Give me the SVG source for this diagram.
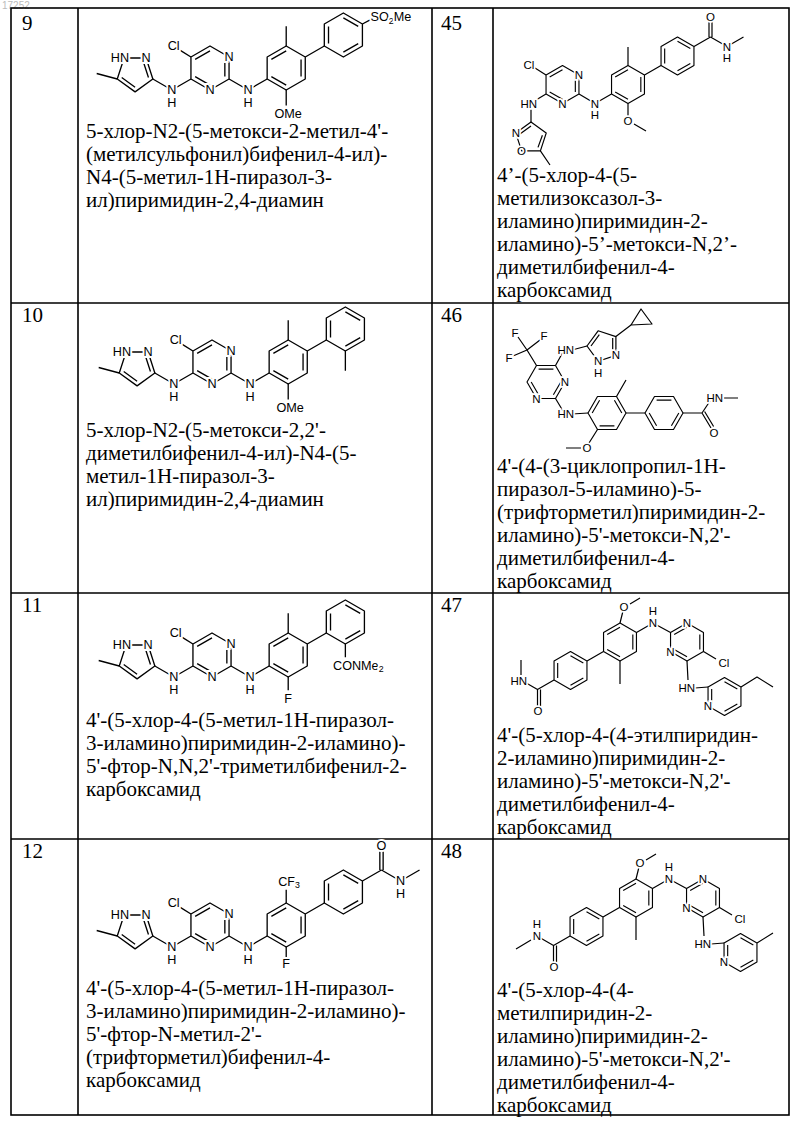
<svg xmlns="http://www.w3.org/2000/svg" xmlns:xlink="http://www.w3.org/1999/xlink" width="800" height="1124" viewBox="0 0 800 1124">
<style>
.b{stroke:#000;stroke-width:1.2;fill:none;stroke-linejoin:round}
.g{stroke:#000;stroke-width:1.6;fill:none}
.a{font-family:"Liberation Sans",Arial,sans-serif;font-size:11.5px;text-anchor:middle;dominant-baseline:central;fill:#000;stroke:#fff;stroke-width:3.5px;paint-order:stroke}
.ae{text-anchor:end}
.as{text-anchor:start}
</style>
<defs>
<g id="hexA"><polygon points="0,-20 17.32,-10 17.32,10 0,20 -17.32,10 -17.32,-10"/><path d="M13.5,-7.8 L13.5,7.8 M0,15.6 L-13.5,7.8 M-13.5,-7.8 L0,-15.6"/></g>
<g id="hexB"><polygon points="0,-20 17.32,-10 17.32,10 0,20 -17.32,10 -17.32,-10"/><path d="M0,-15.6 L13.5,-7.8 M13.5,7.8 L0,15.6 M-13.5,7.8 L-13.5,-7.8"/></g>
<g id="core">
<g class="b">
<use xlink:href="#hexA"/>
<path d="M-17.32,-10 L-27,-16 M-17.32,10 L-34.64,20 L-51.96,10 M17.32,10 L34.64,20 L51.96,10 M-84.3,10 L-103,5"/>
<polygon points="-78.1,-9.1 -58.1,-9.1 -51.96,10 -68.1,21.7 -84.3,10"/>
<path d="M-60.6,-5.65 L-55.95,8.68 M-68.1,17.45 L-80.25,8.68"/>
</g>
<text class="a" x="17.32" y="-10">N</text>
<text class="a" x="0" y="20">N</text>
<text class="a" x="-34.64" y="20">N</text>
<text class="a" x="-34.64" y="32">H</text>
<text class="a" x="34.64" y="20">N</text>
<text class="a" x="34.64" y="32">H</text>
<text class="a ae" x="-73.6" y="-9.1">HN</text>
<text class="a" x="-58.1" y="-9.1">N</text>
<text class="a" x="-33" y="-20">Cl</text>
</g>
<g id="m47">
<g class="b">
<use xlink:href="#hexA" transform="translate(620,642) scale(0.95)"/>
<use xlink:href="#hexA" transform="translate(687,642) scale(0.95)"/>
<use xlink:href="#hexB" transform="translate(570.5,670.5) scale(0.95)"/>
<use xlink:href="#hexB" transform="translate(724.5,696.5) scale(0.95)"/>
<path d="M620,623 L623,611 M630,604 L640,598 M636.5,632.5 L653,623 L670.5,632.5 M703.5,651.5 L716,659 M687,661 L688,680 M695,688 L708,687 M620,661 L620,684 M603.5,651.5 L587,661 M554,680 L537.5,689.5 M537.5,689.5 L537.5,706 M540.5,689.5 L540.5,706 M537.5,689.5 L521,680"/>
</g>
<text class="a" x="624" y="607">O</text>
<text class="a" x="653" y="623">N</text>
<text class="a" x="653" y="611">H</text>
<text class="a" x="687" y="623">N</text>
<text class="a" x="670.5" y="651.5">N</text>
<text class="a" x="724" y="663">Cl</text>
<text class="a ae" x="695" y="688">HN</text>
<text class="a" x="708" y="706">N</text>
<text class="a" x="538" y="711">O</text>
</g>
</defs>

<text x="2" y="9" font-family="Liberation Sans,Arial,sans-serif" font-size="10" fill="#bbb">17252</text>

<g id="table" class="g">
<rect x="11" y="8" width="778" height="1107"/>
<path d="M78,8 V1115 M432,8 V1115 M493,8 V1115 M11,303 H789 M11,593 H789 M11,839 H789"/>
</g>

<g id="numbers" font-family="'Liberation Serif','DejaVu Serif','Times New Roman',serif" font-size="21" fill="#000">
<text x="22" y="30">9</text><text x="441" y="30">45</text>
<text x="22" y="322">10</text><text x="441" y="322">46</text>
<text x="22" y="612">11</text><text x="441" y="612">47</text>
<text x="22" y="858">12</text><text x="441" y="858">48</text>
</g>

<g id="mol9" transform="translate(210,68) scale(1.1)">
<use xlink:href="#core"/>
<g class="b">
<use xlink:href="#hexA" transform="translate(69.28,0)"/>
<use xlink:href="#hexB" transform="translate(121.24,-30)"/>
<path d="M69.28,-20 L69.28,-38 M69.28,20 L69.28,34 M86.6,-10 L103.92,-20 M138.56,-40 L146,-44"/>
</g>
<text class="a" x="71" y="42">OMe</text>
<text class="a as" x="146" y="-46">SO<tspan font-size="8" dy="3">2</tspan><tspan dy="-3">Me</tspan></text>
</g>

<g id="mol10" transform="translate(212,362) scale(1.1)">
<use xlink:href="#core"/>
<g class="b">
<use xlink:href="#hexA" transform="translate(69.28,0)"/>
<use xlink:href="#hexB" transform="translate(121.24,-30)"/>
<path d="M69.28,-20 L69.28,-38 M69.28,20 L69.28,34 M86.6,-10 L103.92,-20 M121.24,-10 L121.24,8"/>
</g>
<text class="a" x="71" y="42">OMe</text>
</g>

<g id="mol11" transform="translate(212,655) scale(1.1)">
<use xlink:href="#core"/>
<g class="b">
<use xlink:href="#hexA" transform="translate(69.28,0)"/>
<use xlink:href="#hexB" transform="translate(121.24,-30)"/>
<path d="M69.28,-20 L69.28,-38 M69.28,20 L69.28,32 M86.6,-10 L103.92,-20 M121.24,-10 L121.24,2"/>
</g>
<text class="a" x="69.28" y="40">F</text>
<text class="a as" x="110" y="10">CONMe<tspan font-size="8" dy="3">2</tspan></text>
</g>

<g id="mol12" transform="translate(210,925) scale(1.1)">
<use xlink:href="#core"/>
<g class="b">
<use xlink:href="#hexA" transform="translate(69.28,0)"/>
<use xlink:href="#hexB" transform="translate(121.24,-30)"/>
<path d="M69.28,-20 L69.28,-32 M69.28,20 L69.28,29 M86.6,-10 L103.92,-20 M138.56,-40 L155.88,-50 M154.4,-50 L154.4,-67 M157.4,-50 L157.4,-67 M155.88,-50 L173.2,-40 M173.2,-40 L190.5,-50"/>
</g>
<text class="a" x="69.28" y="35">F</text>
<text class="a as" x="62" y="-39">CF<tspan font-size="8" dy="3">3</tspan></text>
<text class="a" x="155.88" y="-72">O</text>
<text class="a" x="173.2" y="-40">N</text>
<text class="a" x="173.2" y="-28">H</text>
</g>

<g id="mol45">
<g class="b">
<use xlink:href="#hexA" transform="translate(562.5,84.5) scale(0.95)"/>
<use xlink:href="#hexA" transform="translate(628,84.5) scale(0.95)"/>
<use xlink:href="#hexB" transform="translate(677.5,56) scale(0.95)"/>
<path d="M546,75 L535,68 M546,94 L531,103 M531,106 L531,122 M579,94 L595,103.5 L611.5,94 M540.4,150.9 L550,165 M628,65.5 L628,47 M628,103.5 L628,116 M634,124 L646,131 M644.5,75 L661,65.5 M694,46.5 L710.5,37 M709,37 L709,22 M712,37 L712,22 M710.5,37 L727,46.5 M727,46.5 L743.5,37"/>
<polygon points="531,122 546.2,133.1 540.4,150.9 521.6,150.9 515.8,133.1"/>
<path d="M531,126 L519.6,134.3 M542.4,135.3 L538,147.4"/>
</g>
<text class="a" x="529" y="65">Cl</text>
<text class="a" x="579" y="75">N</text>
<text class="a" x="562.5" y="103.5">N</text>
<text class="a ae" x="537" y="104">HN</text>
<text class="a" x="515.8" y="133.1">N</text>
<text class="a" x="521.6" y="150.9">O</text>
<text class="a" x="595" y="103.5">N</text>
<text class="a" x="595" y="115">H</text>
<text class="a" x="628" y="121">O</text>
<text class="a" x="710.5" y="17">O</text>
<text class="a" x="727" y="46.5">N</text>
<text class="a" x="727" y="58">H</text>
</g>

<g id="mol46">
<g class="b">
<use xlink:href="#hexA" transform="translate(546,382) rotate(30) scale(0.95)"/>
<use xlink:href="#hexB" transform="translate(607,413) rotate(30) scale(0.95)"/>
<use xlink:href="#hexA" transform="translate(664,413) rotate(30) scale(0.95)"/>
<path d="M536.5,365.5 L527,350 M527,350 L518,337 M527,350 L540,340 M527,350 L513,356 M555.5,365.5 L563,352 M572,350 L587,346 M615.9,336.6 L631,325 M555.5,398.5 L563,411 M572,414 L588,413 M616.5,396.5 L626,380 M597.5,429.5 L589,443 M581,448 L566,448 M626,413 L645,413 M683,413 L702,413 M702,413 L711,428 M704.6,411.5 L713.6,426.5 M702,413 L710,401 M724,398 L738,398"/>
<polygon points="587,346 598.1,330.8 615.9,336.6 615.9,355.4 598.1,361.2"/>
<path d="M591,346 L599.3,334.6 M612.7,338 L612.7,354"/>
<polygon points="631,325 641,309 652,324"/>
</g>
<text class="a" x="515" y="333">F</text>
<text class="a" x="544" y="336">F</text>
<text class="a" x="509" y="358">F</text>
<text class="a ae" x="574" y="350">HN</text>
<text class="a" x="565" y="382">N</text>
<text class="a" x="536.5" y="398.5">N</text>
<text class="a ae" x="574" y="414">HN</text>
<text class="a" x="615.9" y="355.4">N</text>
<text class="a" x="598.1" y="361.2">N</text>
<text class="a" x="598.1" y="373">H</text>
<text class="a" x="587" y="448">O</text>
<text class="a" x="714" y="433">O</text>
<text class="a ae" x="723" y="398">HN</text>
</g>

<g id="mol47">
<use xlink:href="#m47"/>
<path class="b" d="M741,687 L757,677 L773,687 M521,675 L521,660"/>
<text class="a ae" x="527" y="681">HN</text>
</g>

<g id="mol48">
<g transform="translate(16,256)">
<use xlink:href="#m47"/>
<path class="b" d="M741,687 L757,677 M515,684 L500,693"/>
<text class="a" x="521" y="680">N</text>
<text class="a" x="521" y="668">H</text>
</g>
</g>

<g id="names" font-family="'Liberation Serif','DejaVu Serif','Times New Roman',serif" font-size="21" fill="#000">
<text x="86" y="138">5-хлор-N2-(5-метокси-2-метил-4'-</text>
<text x="86" y="161">(метилсульфонил)бифенил-4-ил)-</text>
<text x="86" y="184">N4-(5-метил-1H-пиразол-3-</text>
<text x="86" y="207">ил)пиримидин-2,4-диамин</text>

<text x="497" y="182">4’-(5-хлор-4-(5-</text>
<text x="497" y="205">метилизоксазол-3-</text>
<text x="497" y="228">иламино)пиримидин-2-</text>
<text x="497" y="251">иламино)-5’-метокси-N,2’-</text>
<text x="497" y="274">диметилбифенил-4-</text>
<text x="497" y="297">карбоксамид</text>

<text x="86" y="437">5-хлор-N2-(5-метокси-2,2'-</text>
<text x="86" y="460">диметилбифенил-4-ил)-N4-(5-</text>
<text x="86" y="483">метил-1H-пиразол-3-</text>
<text x="86" y="506">ил)пиримидин-2,4-диамин</text>

<text x="497" y="473">4'-(4-(3-циклопропил-1H-</text>
<text x="497" y="496">пиразол-5-иламино)-5-</text>
<text x="497" y="519">(трифторметил)пиримидин-2-</text>
<text x="497" y="542">иламино)-5'-метокси-N,2'-</text>
<text x="497" y="565">диметилбифенил-4-</text>
<text x="497" y="588">карбоксамид</text>

<text x="86" y="727">4'-(5-хлор-4-(5-метил-1H-пиразол-</text>
<text x="86" y="750">3-иламино)пиримидин-2-иламино)-</text>
<text x="86" y="773">5'-фтор-N,N,2'-триметилбифенил-2-</text>
<text x="86" y="796">карбоксамид</text>

<text x="497" y="742">4'-(5-хлор-4-(4-этилпиридин-</text>
<text x="497" y="765">2-иламино)пиримидин-2-</text>
<text x="497" y="788">иламино)-5'-метокси-N,2'-</text>
<text x="497" y="811">диметилбифенил-4-</text>
<text x="497" y="834">карбоксамид</text>

<text x="86" y="995">4'-(5-хлор-4-(5-метил-1H-пиразол-</text>
<text x="86" y="1018">3-иламино)пиримидин-2-иламино)-</text>
<text x="86" y="1041">5'-фтор-N-метил-2'-</text>
<text x="86" y="1064">(трифторметил)бифенил-4-</text>
<text x="86" y="1087">карбоксамид</text>

<text x="497" y="997">4'-(5-хлор-4-(4-</text>
<text x="497" y="1020">метилпиридин-2-</text>
<text x="497" y="1043">иламино)пиримидин-2-</text>
<text x="497" y="1066">иламино)-5'-метокси-N,2'-</text>
<text x="497" y="1089">диметилбифенил-4-</text>
<text x="497" y="1112">карбоксамид</text>
</g>
</svg>
